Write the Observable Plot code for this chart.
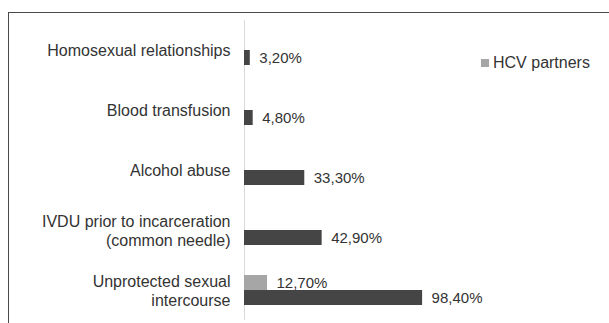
<!DOCTYPE html>
<html>
<head>
<meta charset="utf-8">
<script src="https://cdn.jsdelivr.net/npm/d3@7"></script>
<script src="https://cdn.jsdelivr.net/npm/@observablehq/plot@0.6"></script>
<style>
  html, body { margin: 0; padding: 0; background: #fff; overflow: hidden; }
  #wrap { position: relative; width: 609px; height: 323px; overflow: hidden; background: #fff; }
  #frame { position: absolute; left: 8px; top: 12px; width: 800px; height: 500px;
           border-left: 1.5px solid #4a4a4a; border-top: 1.5px solid #4a4a4a; pointer-events: none; }
  #legend { position: absolute; left: 481px; top: 55px; height: 16px; display: flex; align-items: center;
            font-family: "Liberation Sans", Arial, sans-serif; font-size: 16px; color: #333; }
  #legend .sw { width: 8px; height: 8px; background: #a6a6a6; margin-right: 4px; }
</style>
</head>
<body>
<div id="wrap"></div>
<script>
const categories = [
  "Homosexual relationships",
  "Blood transfusion",
  "Alcohol abuse",
  "IVDU prior to incarceration\n(common needle)",
  "Unprotected sexual\nintercourse"
];
const seriesNames = ["HCV partners", "Total"];
const totalValues = [3.2, 4.8, 33.3, 42.9, 98.4];
const hcvCategories = ["Unprotected sexual\nintercourse"];
const hcvValues = [12.7];
const colors = ["#a6a6a6", "#454545"];

const rows = [];
categories.forEach((c, i) => rows.push({cat: c, series: seriesNames[1], value: totalValues[i]}));
hcvCategories.forEach((c, i) => rows.push({cat: c, series: seriesNames[0], value: hcvValues[i]}));

const fmt = v => v.toFixed(2).replace(".", ",") + "%";

const chart = Plot.plot({
  width: 609,
  height: 323,
  marginLeft: 244,
  marginRight: 184,
  marginTop: 19,
  marginBottom: 2,
  style: {fontFamily: "Liberation Sans, Arial, sans-serif", fontSize: "15px", color: "#333", background: "transparent", overflow: "visible"},
  x: {domain: [0, 100], axis: null},
  y: {domain: seriesNames, paddingInner: 0, paddingOuter: 0.95, axis: null},
  fy: {domain: categories, padding: 0, axis: null},
  color: {domain: seriesNames, range: colors},
  marks: [
    Plot.axisFy({anchor: "left", tickSize: 0, tickPadding: 14, label: null, fontSize: 16, lineHeight: 1.15, fill: "#333"}),
    Plot.ruleX([0], {stroke: "#d9d9d9", strokeWidth: 1}),
    Plot.barX(rows, {x: "value", y: "series", fy: "cat", fill: "series"}),
    Plot.text(rows, {x: "value", y: "series", fy: "cat", text: d => fmt(d.value), textAnchor: "start", dx: 9, fill: "#333"})
  ]
});

const wrap = document.getElementById("wrap");
wrap.appendChild(chart);
const frame = document.createElement("div");
frame.id = "frame";
wrap.appendChild(frame);
const legend = document.createElement("div");
legend.id = "legend";
legend.innerHTML = '<span class="sw"></span><span>' + seriesNames[0] + '</span>';
wrap.appendChild(legend);
</script>
</body>
</html>
